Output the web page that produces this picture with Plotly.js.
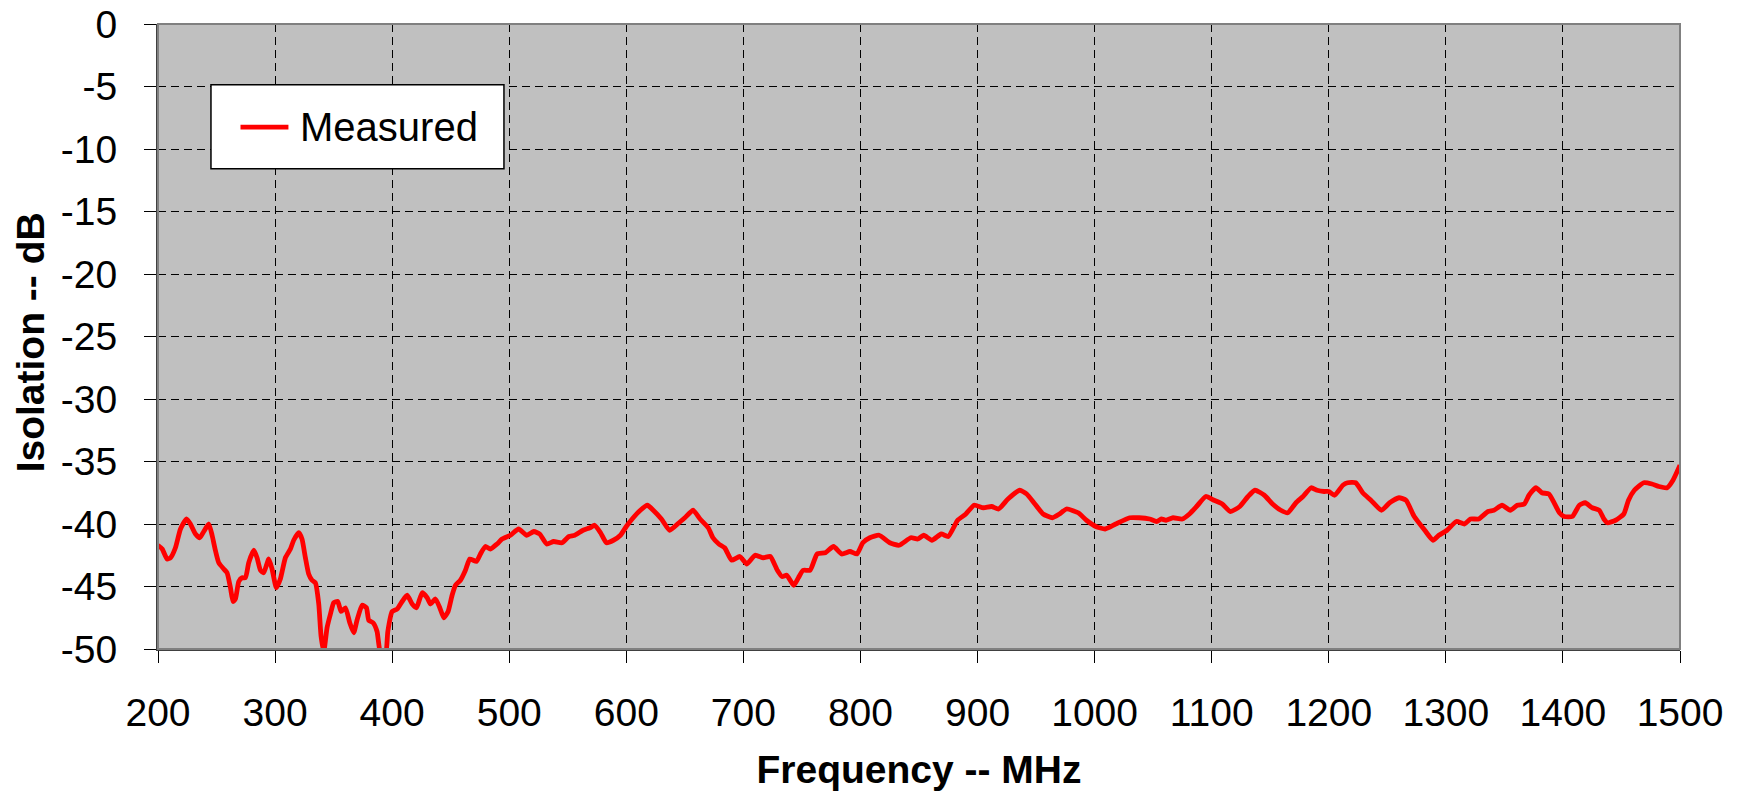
<!DOCTYPE html>
<html>
<head>
<meta charset="utf-8">
<script src="https://cdn.plot.ly/plotly-3.0.1.min.js"></script>
<style>html,body{margin:0;padding:0;background:#fff;}#chart{width:1742px;height:791px;}</style>
</head>
<body>
<div id="chart"></div>
<script>
const seriesName = "Measured";
const seriesColor = "#FF0000";
const xTitle = "Frequency -- MHz";
const yTitle = "Isolation -- dB";
const xTickVals = [200,300,400,500,600,700,800,900,1000,1100,1200,1300,1400,1500];
const yTickVals = [0,-5,-10,-15,-20,-25,-30,-35,-40,-45,-50];

const freqMHz = [200,203.6,207.8,210.7,214.9,219.2,224.3,227.7,232,235.7,239.1,243.4,246.2,249,251.9,256.2,259,261.9,264.1,266.1,269,271.8,274.7,277.5,281.8,284.6,287.5,290.3,294.6,297.4,301.1,304.5,308.8,313.1,315.9,320.2,323,325.9,328.7,331.6,334.4,337.3,339.3,341.6,344.4,347.3,350.1,353.5,356.4,360.1,363.8,367.2,370,374.3,378,380,383.7,387.1,390,394.3,396.3,400,404.3,408.5,412.8,417.1,420.8,425.6,429.9,432.7,437,440.7,444.1,447.8,451.2,454.1,458.3,462.6,466.3,472,475.4,479.6,483.9,489.6,493.9,501,508,515,521,526,532,538,545,551,556,563,569,573,578,583,589,595,600,605,612,618,623,630,637,645,650,657,663,670,674,679,684,690,697,703,710,717,723,729,733,737,743,747,751,757,763,770,777,784,791,797,802,808,816,825,833,843,849,854,861,869,875,883,890,897,905,912,918,926,936,942,949,956,964,970,976,986,993,1001,1009,1018,1030,1038,1047,1053,1057,1061,1067,1075,1081,1088,1095,1102,1109,1116,1124,1131,1137,1145,1152,1159,1165,1172,1178,1185,1190,1196,1200,1205,1212,1216,1223,1229,1236,1245,1252,1260,1266,1273,1282,1289,1294,1301,1309,1316,1321,1328,1336,1341,1348,1355,1361,1367,1371,1377,1382,1388,1393,1397,1401,1408,1414,1419,1425,1431,1435,1438,1445,1452,1456,1461,1469,1476,1482,1489,1494,1500];

const isolationDb = [-41.7,-42.0,-42.8,-42.7,-41.9,-40.4,-39.6,-40.0,-40.8,-41.1,-40.6,-40.0,-40.9,-42.1,-43.1,-43.6,-43.9,-45.1,-46.2,-46.0,-44.6,-44.3,-44.3,-43.1,-42.1,-42.7,-43.7,-43.9,-42.8,-43.6,-45.1,-44.4,-42.7,-42.0,-41.3,-40.7,-41.2,-42.7,-44.0,-44.5,-44.7,-46.4,-49.0,-50.2,-48.3,-47.2,-46.3,-46.2,-47.0,-46.7,-47.9,-48.7,-47.7,-46.5,-46.7,-47.7,-47.9,-48.6,-50.3,-50.5,-48.6,-47.0,-46.8,-46.2,-45.7,-46.4,-46.7,-45.5,-45.9,-46.4,-46.0,-46.7,-47.5,-47.0,-45.7,-44.9,-44.5,-43.7,-42.8,-43.0,-42.4,-41.8,-42.0,-41.6,-41.2,-40.9,-40.4,-40.9,-40.6,-40.8,-41.6,-41.4,-41.5,-41.0,-40.9,-40.5,-40.3,-40.1,-40.7,-41.5,-41.3,-40.9,-40.2,-39.6,-38.9,-38.5,-38.9,-39.6,-40.5,-39.9,-39.5,-38.9,-39.6,-40.3,-41.1,-41.6,-41.9,-42.9,-42.6,-43.2,-42.5,-42.7,-42.6,-43.7,-44.2,-44.1,-44.9,-44.3,-43.7,-43.7,-42.4,-42.3,-41.8,-42.4,-42.2,-42.4,-41.5,-41.1,-40.9,-41.5,-41.7,-41.1,-41.2,-40.9,-41.3,-40.8,-41.0,-39.7,-39.2,-38.5,-38.7,-38.6,-38.8,-38.0,-37.3,-37.6,-38.4,-39.2,-39.5,-39.2,-38.8,-39.1,-39.7,-40.2,-40.4,-40.0,-39.5,-39.5,-39.6,-39.8,-39.6,-39.7,-39.5,-39.6,-39.2,-38.5,-37.8,-38.1,-38.4,-39.0,-38.6,-37.8,-37.3,-37.7,-38.4,-38.9,-39.1,-38.3,-37.8,-37.1,-37.3,-37.4,-37.4,-37.7,-36.9,-36.7,-36.7,-37.5,-38.1,-38.9,-38.3,-37.9,-38.1,-39.4,-40.5,-41.3,-40.9,-40.5,-39.8,-40.0,-39.6,-39.6,-39.0,-38.9,-38.5,-38.9,-38.5,-38.4,-37.7,-37.1,-37.5,-37.6,-38.4,-39.1,-39.4,-39.4,-38.5,-38.3,-38.7,-38.9,-39.6,-39.9,-39.7,-39.2,-38.1,-37.3,-36.7,-36.8,-37.0,-37.1,-36.5,-35.3];

const FONT = "Liberation Sans, Arial, sans-serif";

const trace = {
  x: freqMHz,
  y: isolationDb,
  type: "scatter",
  mode: "lines",
  name: seriesName,
  line: {color: seriesColor, width: 4.8, shape: "spline", smoothing: 0.5},
  showlegend: false,
  hoverinfo: "x+y"
};

const layout = {
  width: 1742,
  height: 791,
  margin: {l: 158, r: 62, t: 24, b: 142, pad: 0},
  paper_bgcolor: "#FFFFFF",
  plot_bgcolor: "#C0C0C0",
  font: {family: FONT, color: "#000000", size: 39},
  showlegend: false,
  xaxis: {
    range: [200, 1500],
    tickvals: xTickVals,
    ticktext: xTickVals.map(String),
    showgrid: true,
    gridcolor: "#000000",
    gridwidth: 1,
    griddash: "8px,5px",
    zeroline: false,
    showline: true,
    linecolor: "#404040",
    linewidth: 2,
    ticks: "outside",
    ticklen: 12,
    tickwidth: 1,
    tickcolor: "#000000",
    ticklabelstandoff: 16,
    tickfont: {family: FONT, size: 39, color: "#000"},
    title: {text: xTitle, font: {family: FONT, size: 39, color: "#000", weight: "bold"}, standoff: 28},
    fixedrange: true
  },
  yaxis: {
    range: [-50, 0],
    tickvals: yTickVals,
    ticktext: yTickVals.map(String),
    showgrid: true,
    gridcolor: "#000000",
    gridwidth: 1,
    griddash: "8px,5px",
    zeroline: false,
    showline: true,
    linecolor: "#404040",
    linewidth: 2,
    ticks: "outside",
    ticklen: 12,
    tickwidth: 1,
    tickcolor: "#000000",
    ticklabelstandoff: 19,
    tickfont: {family: FONT, size: 39, color: "#000"},
    fixedrange: true
  },
  shapes: [
    {type: "rect", xref: "paper", yref: "paper", x0: 0, x1: 1, y0: 0, y1: 1,
     line: {color: "#808080", width: 2}, fillcolor: "rgba(0,0,0,0)", layer: "above"},
    {type: "rect", xref: "paper", yref: "paper", x0: 0.0348, x1: 0.2273, y0: 0.7683, y1: 0.9027,
     line: {color: "#000000", width: 1.5}, fillcolor: "#FFFFFF", layer: "above"},
    {type: "line", xref: "paper", yref: "paper", x0: 0.0542, x1: 0.0857, y0: 0.8349, y1: 0.8349,
     line: {color: seriesColor, width: 4.8}, layer: "above"}
  ],
  annotations: [
    {text: seriesName, xref: "paper", yref: "paper", x: 0.0919, y: 0.8349,
     xanchor: "left", yanchor: "middle", showarrow: false,
     font: {family: FONT, size: 40, color: "#000"}},
    {text: yTitle, xref: "paper", yref: "paper", x: -0.0837, y: 0.49,
     xanchor: "center", yanchor: "middle", textangle: -90, showarrow: false,
     font: {family: FONT, size: 39, color: "#000", weight: "bold"}}
  ]
};

Plotly.newPlot("chart", [trace], layout, {displayModeBar: false, staticPlot: true});
</script>
</body>
</html>
